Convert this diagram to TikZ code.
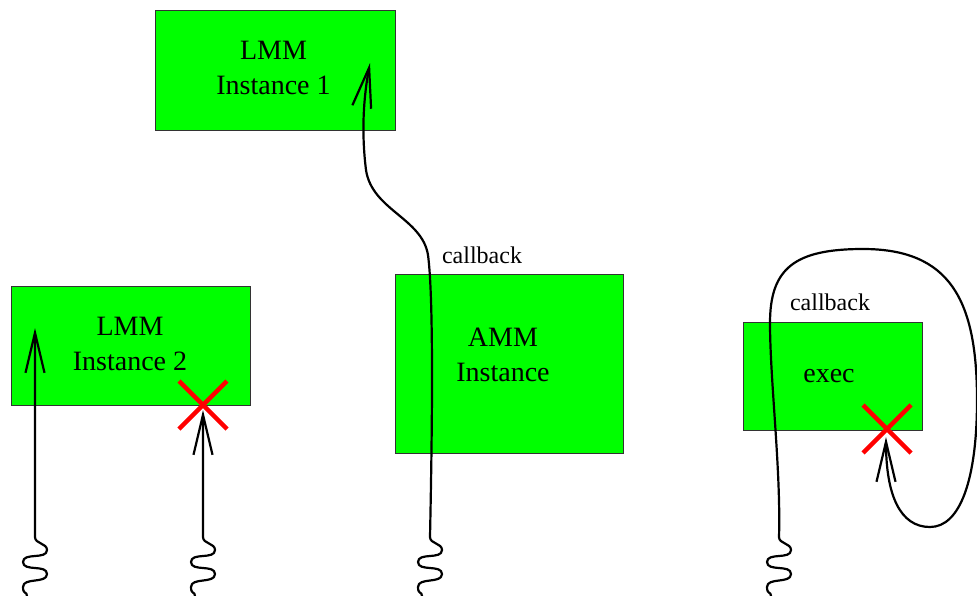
\documentclass[tikz,border=0pt]{standalone}
\usepackage{fontspec}
\setmainfont{Liberation Serif}
\usetikzlibrary{arrows.meta}
\definecolor{boxgreen}{HTML}{00FF00}
\definecolor{boxedge}{HTML}{333333}
\definecolor{crossred}{HTML}{FF0000}
\begin{document}
\begin{tikzpicture}[x=1pt,y=-1pt,
  box/.style={draw=boxedge, line width=1pt, fill=boxgreen, inner sep=0pt},
  boxtext/.style={inner sep=0pt, align=center, font=\fontsize{28}{35}\selectfont},
  conn/.style={line width=2.2pt, line join=round,
               -{Straight Barb[length=40pt,width=19pt]}},
  lbl/.style={font=\fontsize{24}{28}\selectfont, inner sep=0pt},
  cross/.style={draw=crossred, line width=4.5pt}]
\useasboundingbox (0,0) rectangle (977,595);

% components
\node[box, minimum width=240pt, minimum height=120pt] (lmm1) at (275,70) {};
\node[box, minimum width=239pt, minimum height=119pt] (lmm2) at (130.5,345.5) {};
\node[box, minimum width=228pt, minimum height=179pt] (amm) at (509,363.5) {};
\node[box, minimum width=179pt, minimum height=108pt] (exec) at (832.5,376) {};

% component names
\node[boxtext] (lmm1name) at (273.5,67.5) {LMM\\Instance 1};
\node[boxtext] (lmm2name) at (130,343.5) {LMM\\Instance 2};
\node[boxtext] (ammname) at (503,355) {AMM\\Instance};
\node[boxtext] (execname) at (829,376) {exec};

% labels
\node[lbl] (cb1) at (482,255) {callback};
\node[lbl] (cb2) at (830,302) {callback};

% incoming call origins (bottom edge) and arrow targets
\coordinate (s1) at (27,596);
\coordinate (s2) at (195,596);
\coordinate (s3) at (422,596);
\coordinate (s4) at (771,596);
\coordinate (t1) at (35,328);
\coordinate (t2) at (203,410);
\coordinate (t3) at (370,63);
\coordinate (t4) at (886,437);
\coordinate (x2) at (203,405);
\coordinate (x4) at (887,429);

% call into LMM instance 2 (succeeds)
\draw[conn] (s1) .. controls +(0,-5) and +(0,8) .. ++(-4,-9)
  .. controls +(0,-10) and +(0,10) .. ++(24,-13)
  .. controls +(0,-10) and +(0,10) .. ++(-24,-12)
  .. controls +(0,-10) and +(0,10) .. ++(24,-12)
  .. controls +(0,-7) and +(0,7) .. ++(-12,-13)
  -- (t1);

% call into LMM instance 2 (blocked)
\draw[conn] (s2) .. controls +(0,-5) and +(0,8) .. ++(-4,-9)
  .. controls +(0,-10) and +(0,10) .. ++(24,-13)
  .. controls +(0,-10) and +(0,10) .. ++(-24,-12)
  .. controls +(0,-10) and +(0,10) .. ++(24,-12)
  .. controls +(0,-7) and +(0,7) .. ++(-12,-13)
  -- (t2);

% call through AMM instance, callback into LMM instance 1
\draw[conn] (s3) .. controls +(0,-5) and +(0,8) .. ++(-4,-9)
  .. controls +(0,-10) and +(0,10) .. ++(24,-13)
  .. controls +(0,-10) and +(0,10) .. ++(-24,-12)
  .. controls +(0,-10) and +(0,10) .. ++(24,-12)
  .. controls +(0,-7) and +(0,7) .. ++(-12,-13)
  .. controls (432,440) and (434,300) .. (428,255)
  .. controls (422,218) and (372,210) .. (366,170)
  .. controls (361,130) and (364,95) .. (t3);

% call through exec, callback re-entering exec (blocked)
\draw[conn] (s4) .. controls +(0,-5) and +(0,8) .. ++(-4,-9)
  .. controls +(0,-10) and +(0,10) .. ++(24,-13)
  .. controls +(0,-10) and +(0,10) .. ++(-24,-12)
  .. controls +(0,-10) and +(0,10) .. ++(24,-12)
  .. controls +(0,-7) and +(0,7) .. ++(-12,-13)
  .. controls (781,470) and (770,380) .. (770,323)
  .. controls (770,268) and (795,249) .. (863,249)
  .. controls (950,249) and (977,300) .. (977,400)
  .. controls (977,480) and (960,527) .. (930,527)
  .. controls (900,527) and (886,495) .. (t4);

% rejected entries
\draw[cross] (x2) +(-24,-24) -- +(24,24) (x2) +(24,-24) -- +(-24,24);
\draw[cross] (x4) +(-24,-24) -- +(24,24) (x4) +(24,-24) -- +(-24,24);
\end{tikzpicture}
\end{document}
